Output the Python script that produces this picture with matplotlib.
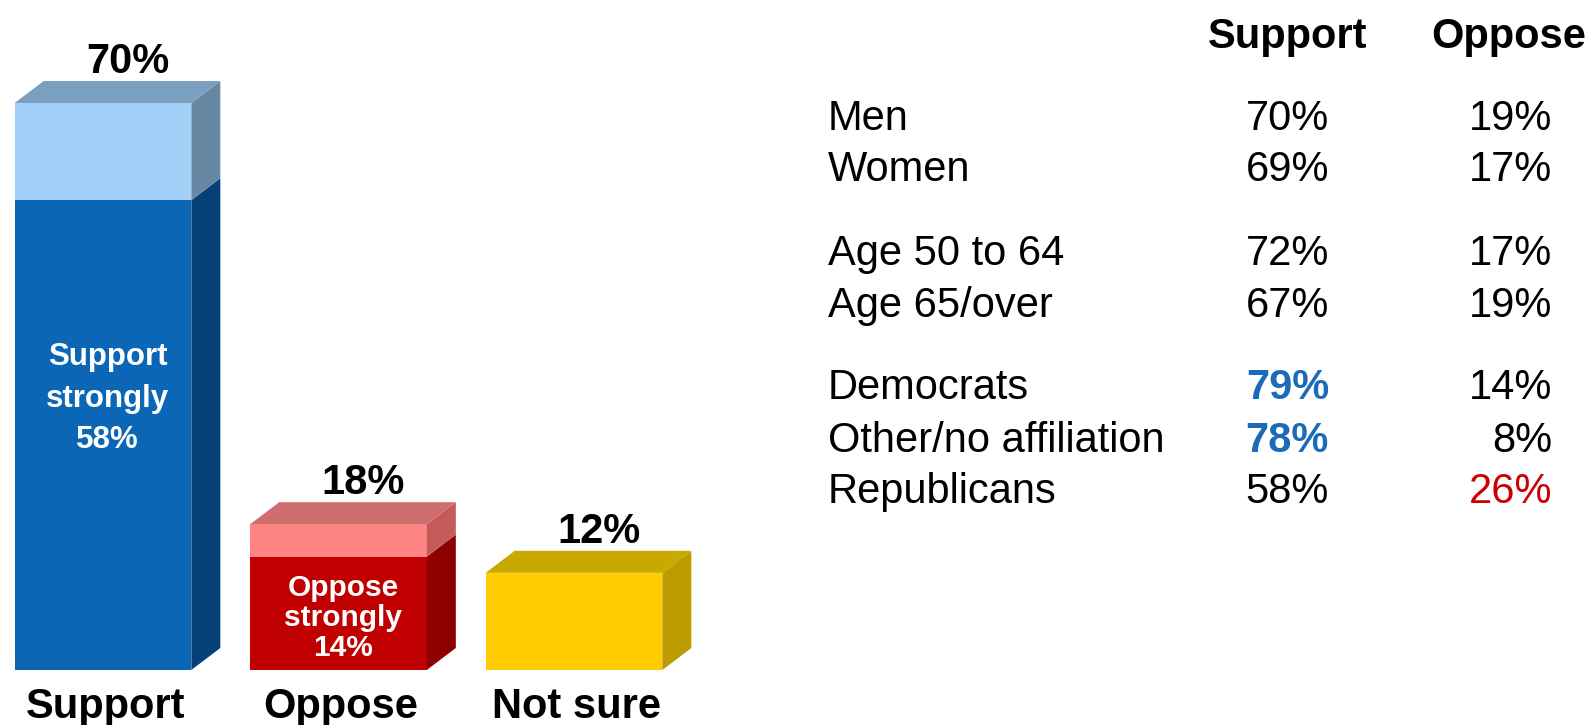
import matplotlib
matplotlib.use("Agg")
import matplotlib.pyplot as plt
from matplotlib.patches import Polygon

plt.rcParams['font.family'] = ['Liberation Sans', 'DejaVu Sans']

# bar chart data
cats = ['Support', 'Oppose', 'Not sure']
totals = [70, 18, 12]
strong = [58, 14, None]
strong_lbl = ['Support\nstrongly\n58%', 'Oppose\nstrongly\n14%', None]

# table data
groups = ['Men', 'Women', 'Age 50 to 64', 'Age 65/over',
          'Democrats', 'Other/no affiliation', 'Republicans']
sup = ['70%', '69%', '72%', '67%', '79%', '78%', '58%']
opp = ['19%', '17%', '17%', '19%', '14%', '8%', '26%']

# colours: (light front, top, light side, strong front, strong side)
cols = [('#A3D0F8', '#7B9FBE', '#6688A2', '#0B67B5', '#074078'),
        ('#FF8585', '#CF6E6E', '#C45A5A', '#C00000', '#8E0000'),
        ('#FFCC00', '#C9A800', '#BC9C00', None, None)]

W, H = 1593, 725
fig = plt.figure(figsize=(W / 100, H / 100), dpi=100)
ax = fig.add_axes([0, 0, 720 / W, 1])
ax.set_xlim(-0.4374, -0.4374 + 720 / 235.5)
ax.set_ylim(-55 / 8.1, 670 / 8.1)
ax.axis('off')

bw = 0.75
dx = 29 / 235.5
dy = 22 / 8.1


def box(x, y0, y1, front, side):
    l, r = x - bw / 2, x + bw / 2
    ax.add_patch(Polygon([(l, y0), (r, y0), (r, y1), (l, y1)], closed=True,
                         fc=front, ec='none'))
    ax.add_patch(Polygon([(r, y0), (r + dx, y0 + dy), (r + dx, y1 + dy), (r, y1)],
                         closed=True, fc=side, ec='none'))


for i, c in enumerate(cats):
    lf, tp, ls, sf, ss = cols[i]
    t = totals[i]
    s = strong[i] if strong[i] is not None else 0
    if s:
        box(i, 0, s, sf, ss)
    box(i, s, t, lf, ls)
    l, r = i - bw / 2, i + bw / 2
    ax.add_patch(Polygon([(l, t), (r, t), (r + dx, t + dy), (l + dx, t + dy)],
                         closed=True, fc=tp, ec='none'))
    ax.text(i + dx * 0.85, t + dy + 1.0, f'{t}%', ha='center', va='baseline',
            fontsize=30, fontweight='bold')
    ax.text(i + 0.01, -5.93, c, ha='center', va='baseline',
            fontsize=30, fontweight='bold')

inner_y = [33.5, 6.4]
inner_fs = [22.5, 21.5]
inner_ls = [1.5, 1.1]
for i in range(2):
    ax.text(i + 0.02, inner_y[i], strong_lbl[i], ha='center', va='center',
            fontsize=inner_fs[i], fontweight='bold', color='white',
            linespacing=inner_ls[i])

# table
def fy(py):
    return 1 - py / H


fig.text(1288 / W, fy(48), 'Support', ha='center', va='baseline',
         fontsize=30, fontweight='bold')
fig.text(1509 / W, fy(48), 'Oppose', ha='center', va='baseline',
         fontsize=30, fontweight='bold')

row_base = [130, 181, 265, 317, 399, 452, 503]
for k, g in enumerate(groups):
    yb = fy(row_base[k])
    fig.text(828 / W, yb, g, ha='left', va='baseline', fontsize=30)
    if k in (4, 5):
        fig.text(1329 / W, yb, sup[k], ha='right', va='baseline', fontsize=30,
                 fontweight='bold', color='#1C6BB8')
    else:
        fig.text(1329 / W, yb, sup[k], ha='right', va='baseline', fontsize=30)
    oc = '#CC0000' if k == 6 else 'black'
    fig.text(1552 / W, yb, opp[k], ha='right', va='baseline', fontsize=30,
             color=oc)

fig.savefig('out.png', dpi=100)
